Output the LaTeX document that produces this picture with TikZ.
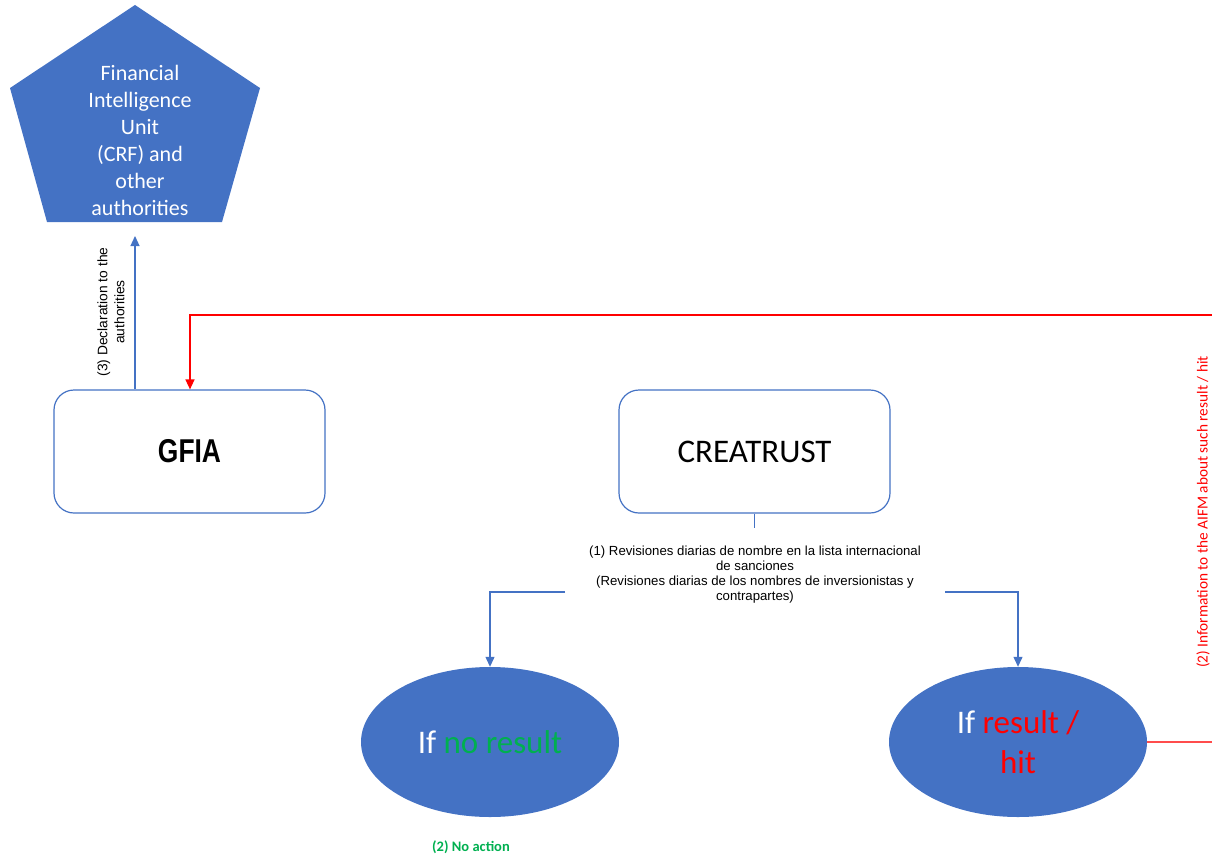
\documentclass[tikz,border=0pt]{standalone}
\usepackage{fontspec}
\setmainfont{Carlito}
\newfontfamily\arialfont{Liberation Sans}
\usetikzlibrary{shapes.geometric,arrows.meta}
\definecolor{obl}{HTML}{4472C4}
\definecolor{ogreen}{HTML}{00B050}
\definecolor{ored}{HTML}{FF0000}
\tikzset{
  boxnode/.style={draw=obl, line width=1.2pt, rounded corners=20pt, minimum width=271pt, minimum height=123pt, inner sep=0pt, fill=white},
  ellnode/.style={ellipse, fill=obl, minimum width=258pt, minimum height=150pt, inner sep=0pt, align=center},
  blueline/.style={draw=obl, line width=1.2pt},
  redline/.style={draw=ored, line width=1.5pt},
  btip/.style={-{Triangle[width=9pt,length=10pt]}},
}
\begin{document}
\begin{tikzpicture}[x=1pt,y=-1pt]
\useasboundingbox (0,0) rectangle (1212,859);
\clip (0,0) rectangle (1212,859);
% pentagon
\fill[obl] (135,5) -- (260,88) -- (222,222) -- (47,222) -- (10,88) -- cycle;
\node[text=white, align=center, font=\fontsize{22}{27}\selectfont] (fiu) at (140,140)
  {Financial\\Intelligence\\Unit\\(CRF) and\\other\\authorities};
\coordinate (fiub) at (135,236);
% boxes
\node[boxnode, font=\arialfont\bfseries\fontsize{33}{36}\selectfont] (gfia) at (189.5,451.5) {\scalebox{0.8}[1]{GFIA}};
\node[boxnode, font=\fontsize{33}{36}\selectfont] (crea) at (754.5,451.5) {CREATRUST};
% ellipses
\node[ellnode, font=\fontsize{33}{40}\selectfont] (e1) at (490,742) {\textcolor{white}{If} \textcolor{ogreen}{no result}};
\node[ellnode, font=\fontsize{33}{40}\selectfont] (e2) at (1018,742) {\textcolor{white}{If} \textcolor{ored}{result /}\\\textcolor{ored}{hit}};
% label
\node[align=center, font=\arialfont\fontsize{13.2}{15}\selectfont] (lab) at (755,575)
  {(1) Revisiones diarias de nombre en la lista internacional\\de sanciones\\(Revisiones diarias de los nombres de inversionistas y\\contrapartes)};
\coordinate (lj) at (565,592);
\coordinate (rj) at (945,592);
\draw[blueline] (crea.south) -- ++(0,14);
\draw[blueline, btip] (lj) -| (e1.north);
\draw[blueline, btip] (rj) -| (e2.north);
% declaration arrow
\draw[blueline, btip] (gfia.north -| fiub) -- (fiub);
\node[rotate=90, align=center, font=\arialfont\fontsize{13.8}{17}\selectfont] (decl) at (111,312)
  {(3) Declaration to the\\authorities};
% red lines
\coordinate (rtop) at (1212,315);
\coordinate (rbot) at (1212,742);
\draw[redline, -{Triangle[width=9pt,length=10pt]}] (rtop) -| (gfia.north -| 190,0);
\draw[ored!70, line width=1.5pt] (e2.east) -- (rbot);
\node[rotate=90, text=ored, font=\fontsize{15.3}{18}\selectfont, anchor=center] (info) at (1203,512)
  {(2) Information to the AIFM about such result / hit};
% no action
\node[text=ogreen, font=\bfseries\fontsize{14.5}{16}\selectfont] (noact) at (471,847) {(2) No action};
\end{tikzpicture}
\end{document}
